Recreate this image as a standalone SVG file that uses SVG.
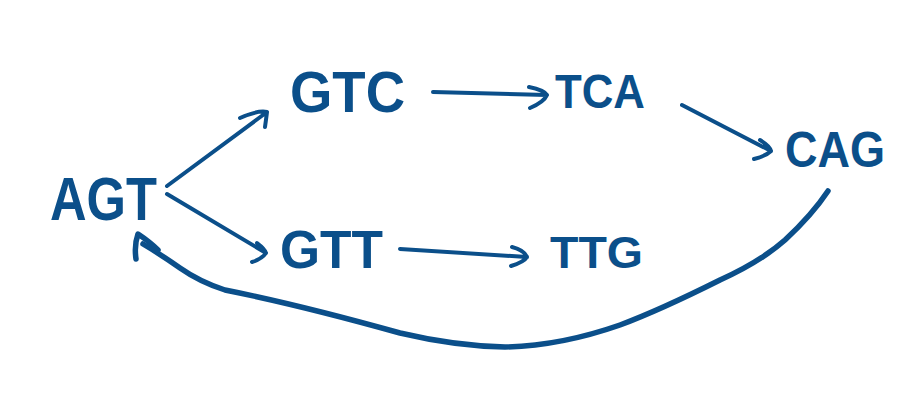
<svg xmlns="http://www.w3.org/2000/svg" width="921" height="403" viewBox="0 0 921 403">
<style>
.lbl{font-family:"Liberation Sans",Arial,sans-serif;font-weight:bold;fill:#0b4f8a}
.edge{fill:none;stroke:#0b4f8a;stroke-width:4;stroke-linecap:round;stroke-linejoin:round}
.thick{stroke-width:5.5}
</style>
<rect width="921" height="403" fill="#ffffff"/>
<g id="node-AGT"><text class="lbl" x="50" y="220" font-size="62" textLength="107" lengthAdjust="spacingAndGlyphs">AGT</text></g>
<g id="node-GTC"><text class="lbl" x="290" y="112" font-size="58" textLength="115" lengthAdjust="spacingAndGlyphs">GTC</text></g>
<g id="node-TCA"><text class="lbl" x="555" y="108" font-size="49" textLength="90" lengthAdjust="spacingAndGlyphs">TCA</text></g>
<g id="node-CAG"><text class="lbl" x="785" y="167" font-size="50" textLength="100" lengthAdjust="spacingAndGlyphs">CAG</text></g>
<g id="node-GTT"><text class="lbl" x="280" y="268" font-size="53" textLength="103" lengthAdjust="spacingAndGlyphs">GTT</text></g>
<g id="node-TTG"><text class="lbl" x="550" y="268" font-size="45" textLength="93" lengthAdjust="spacingAndGlyphs">TTG</text></g>
<g id="connectors">
<path class="edge" d="M167 186 L267 112 M240 118 Q258 110 267 112 Q266 120 265 127"/>
<path class="edge" d="M167 194 L266 253 M257 243 Q265 249 266 253 Q262 259 252 262"/>
<path class="edge" d="M433 92 L547 95 M529 87 Q544 90 547 95 Q544 102 530 108"/>
<path class="edge" d="M682 105 L771 151 M760 140 Q770 146 771 151 Q766 156 754 159"/>
<path class="edge" d="M400 249 L527 257 M512 247 Q524 250 527 257 Q524 262 511 266"/>
<path class="edge thick" d="M828 191 Q812 215 785 240 Q760 262 720 280 Q660 310 620 325 Q560 346 505 347 Q455 346 400 333 Q300 305 225 290 Q200 282 180 268 Q160 254 143 244"/>
<path class="edge thick" d="M136 259 Q134 245 138 234 Q150 242 158 250"/>
</g>
</svg>
